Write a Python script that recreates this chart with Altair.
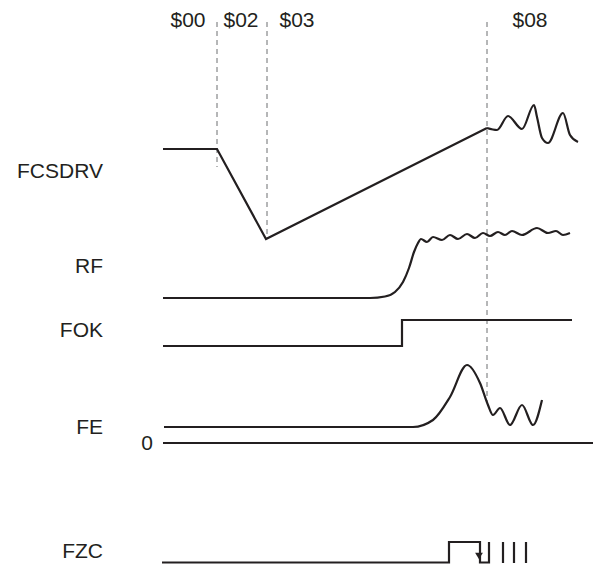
import altair as alt
import pandas as pd

# ---- signal traces (horizontal = time, vertical = level) ----
fcsdrv_x = [163, 217, 266, 487]
fcsdrv_y = [149, 149, 239, 128]
fcsdrv_wig_x = [487, 497, 508, 522, 534, 537, 542, 548, 563, 570, 578]
fcsdrv_wig_y = [128, 130, 116, 129, 105, 117, 138, 143, 113, 135, 142]

rf_x = [163, 370, 385, 395, 403, 409, 414, 418, 421, 427, 433, 442, 450, 458, 467, 475,
        483, 490, 498, 505, 512, 522, 537, 548, 556, 563, 570]
rf_y = [298, 298, 296.5, 292, 282, 268, 252, 243, 239, 242, 237, 240, 235, 239, 234, 238,
        233, 236, 232, 235, 231, 235, 228, 233, 231, 235, 233]

fok_x = [163, 402, 402, 572]
fok_y = [346, 346, 320, 320]

fe_x = [164, 413, 433, 450, 467, 480, 488, 493, 500, 510, 522, 533, 542]
fe_y = [427, 427, 420, 397, 365, 383, 405, 415, 408, 425, 405, 425, 400]

zero_x = [163, 601]
zero_y = [443, 443]

fzc_x = [162, 449, 449, 480, 480, 489, 489]
fzc_y = [562.5, 562.5, 542, 542, 562.5, 562.5, 542]
fzc_pulse_x = [503, 514, 526]
fzc_pulse_top = [542, 542, 542]
fzc_pulse_bottom = [563, 563, 563]
fzc_arrow_x = [479]
fzc_arrow_y = [556]

# ---- state markers ----
state_names = ["$00", "$02", "$03", "$08"]
state_label_x = [188, 241, 297, 530]
state_label_y = [27, 27, 27, 27]
marker_x = [217, 267, 487]
marker_top = [22, 22, 22]
marker_bottom = [167, 235, 402]

# ---- lane labels ----
lane_names = ["FCSDRV", "RF", "FOK", "FE", "FZC", "0"]
lane_label_x = [103, 103, 103, 103, 103, 153]
lane_label_y = [178, 273, 337, 434, 558, 450]

INK = "#231f20"
FONT = "Liberation Sans"

def trace(name, xs, ys):
    return pd.DataFrame({"x": xs, "y": ys, "series": name, "order": range(len(xs))})

linear_df = pd.concat([
    trace("FCSDRV", fcsdrv_x, fcsdrv_y),
    trace("FOK", fok_x, fok_y),
    trace("zero", zero_x, zero_y),
    trace("FZC", fzc_x, fzc_y),
])
smooth_df = pd.concat([
    trace("FCSDRV_wig", fcsdrv_wig_x, fcsdrv_wig_y),
    trace("RF", rf_x, rf_y),
    trace("FE", fe_x, fe_y),
])

xs = alt.Scale(domain=[8, 593], nice=False, zero=False)
ys = alt.Scale(domain=[8, 564], nice=False, zero=False, reverse=True)

X = lambda f: alt.X(f, type="quantitative", scale=xs, axis=None)
Y = lambda f: alt.Y(f, type="quantitative", scale=ys, axis=None)

lin = alt.Chart(linear_df).mark_line(color=INK, strokeWidth=2.2, interpolate="linear").encode(
    x=X("x"), y=Y("y"), detail="series:N", order="order:Q")
smooth = alt.Chart(smooth_df).mark_line(color=INK, strokeWidth=2.2, interpolate="monotone").encode(
    x=X("x"), y=Y("y"), detail="series:N", order="order:Q")

markers_df = pd.DataFrame({"x": marker_x, "top": marker_top, "bottom": marker_bottom})
markers = alt.Chart(markers_df).mark_rule(color="#6d6e71", strokeWidth=1, strokeDash=[5, 4]).encode(
    x=X("x"), y=Y("top"), y2="bottom")

pulses_df = pd.DataFrame({"x": fzc_pulse_x, "top": fzc_pulse_top, "bottom": fzc_pulse_bottom})
pulses = alt.Chart(pulses_df).mark_rule(color=INK, strokeWidth=2.2).encode(
    x=X("x"), y=Y("top"), y2="bottom")

arrow_df = pd.DataFrame({"x": fzc_arrow_x, "y": fzc_arrow_y})
arrow = alt.Chart(arrow_df).mark_point(shape="triangle-down", filled=True, color=INK, size=60, opacity=1).encode(
    x=X("x"), y=Y("y"))

states_df = pd.DataFrame({"label": state_names, "x": state_label_x, "y": state_label_y})
states = alt.Chart(states_df).mark_text(font=FONT, fontSize=21, color=INK, align="center",
                                        baseline="alphabetic").encode(
    x=X("x"), y=Y("y"), text="label:N")

lanes_df = pd.DataFrame({"label": lane_names, "x": lane_label_x, "y": lane_label_y})
lanes = alt.Chart(lanes_df).mark_text(font=FONT, fontSize=21, color=INK, align="right",
                                      baseline="alphabetic").encode(
    x=X("x"), y=Y("y"), text="label:N")

chart = alt.layer(markers, lin, smooth, pulses, arrow, states, lanes).properties(
    width=585, height=556, padding=0, autosize="none"
).configure_view(strokeOpacity=0, strokeWidth=0)

chart.save("out.html", embed_options={"renderer": "svg", "actions": False})
